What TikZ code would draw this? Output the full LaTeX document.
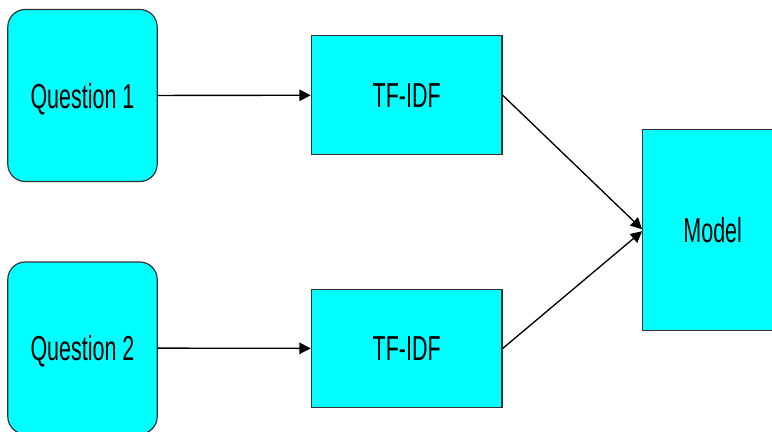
\documentclass[tikz,border=0pt]{standalone}
\usepackage{fontspec}
\setmainfont{Liberation Sans}
\usetikzlibrary{arrows.meta}
\definecolor{boxfill}{HTML}{00FFFF}
\definecolor{boxline}{HTML}{333333}
\newcommand{\narrow}[1]{\scalebox{0.62}[1]{#1}}
\tikzset{
  box/.style={draw=boxline, line width=0.9pt, fill=boxfill, inner sep=0pt,
    text depth=0pt, font=\fontsize{26}{30}\selectfont},
  qbox/.style={box, rounded corners=13pt, minimum width=112pt, minimum height=129pt},
  tfbox/.style={box, minimum width=143pt, minimum height=89pt},
  mbox/.style={box, minimum width=105pt, minimum height=151pt},
  link/.style={line width=1pt, -{Triangle[length=8.5pt,width=8.5pt]}}
}
\begin{document}
\begin{tikzpicture}[x=0.75pt, y=-0.75pt]
  \useasboundingbox (0,0) rectangle (772,432);
  \clip (0,0) rectangle (772,432);
  \node[qbox]  (q1)  at (82.5, 95.5)  {\narrow{Question 1}};
  \node[qbox]  (q2)  at (82.5, 348)   {\narrow{Question 2}};
  \node[tfbox] (tf1) at (406.7, 95.2) {\narrow{TF-IDF}};
  \node[tfbox] (tf2) at (406.7, 348.5){\narrow{TF-IDF}};
  \node[mbox]  (m)   at (712.7, 229.9){\narrow{Model}};
  \draw[link] (q1) -- (tf1);
  \draw[link] (q2) -- (tf2);
  \draw[link] (tf1.east) -- ([yshift=0.5pt]m.west);
  \draw[link] (tf2.east) -- ([yshift=-1pt]m.west);
\end{tikzpicture}
\end{document}
